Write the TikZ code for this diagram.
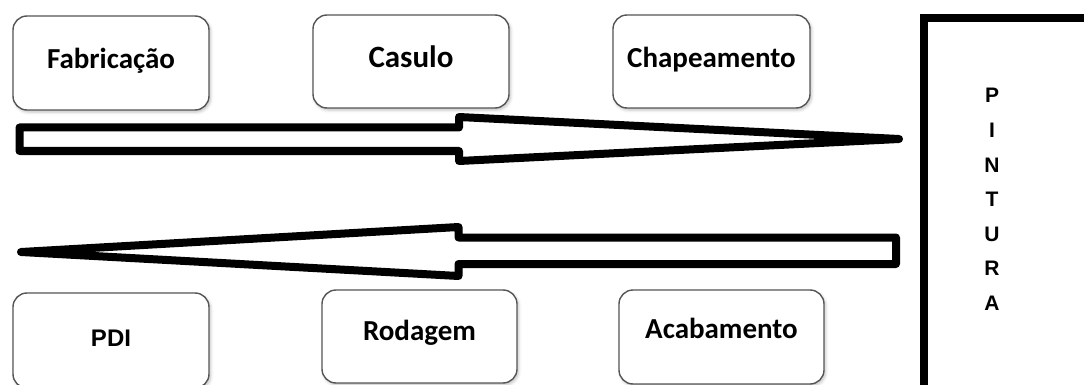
\documentclass[tikz,border=0pt]{standalone}
\usepackage{fontspec}
\setmainfont{Carlito}
\newfontfamily\arialfont{Liberation Sans}
\usetikzlibrary{shadows.blur}
\definecolor{boxgray}{HTML}{555555}

\begin{document}
\begin{tikzpicture}[x=1pt,y=-1pt,
  stage/.style={draw=boxgray, line width=1.4pt, rounded corners=14pt, fill=white,
    blur shadow={shadow xshift=1.5pt, shadow yshift=-2pt, shadow blur radius=3pt, shadow opacity=25},
    inner sep=0pt, text height=20pt, text depth=8pt,
    font=\fontsize{29}{34}\selectfont\bfseries},
  lbl/.style={anchor=base, inner sep=0pt, font=\fontsize{29}{34}\selectfont\bfseries},
  bigarrow/.style={draw=black, line width=8pt, line join=round, fill=white},
  letter/.style={font=\arialfont\fontsize{21}{25}\selectfont\bfseries, anchor=base, inner sep=0pt},
]
\useasboundingbox (0,0) rectangle (1084,385);

% process stages, upper row
\node[stage, minimum width=196pt, minimum height=94pt] (fab)  at (111,63)   {Fabricação};
\node[stage, minimum width=196pt, minimum height=93pt,
      font=\fontsize{31}{36}\selectfont\bfseries] (cas) at (411,61.5) {Casulo};
\node[stage, minimum width=197pt, minimum height=93pt] (chap) at (711.5,61.5) {Chapeamento};

% process stages, lower row
\node[stage, minimum width=196pt, minimum height=95pt,
      font=\arialfont\fontsize{24}{28}\selectfont\bfseries] (pdi) at (111,340.5) {PDI};
\node[stage, minimum width=195pt, minimum height=93pt] (rod) at (419.5,336.5) {};
\node[lbl] (rodtxt) at (419.5,340) {Rodagem};
\node[stage, minimum width=205pt, minimum height=94pt] (acab) at (721.5,337) {};
\node[lbl] (acabtxt) at (721.5,338) {Acabamento};

% paint shop block
\node[draw=black, line width=8pt, minimum width=168pt, minimum height=373.5pt,
      anchor=north west, inner sep=0pt] (pintura) at (920,14.5) {};
\foreach \ch [count=\k from 0] in {P,I,N,T,U,R,A}
  \node[letter] (ch\k) at (992,103+34.5*\k) {\ch};

% flow towards the paint shop
\coordinate (toptip) at (899,139);
\draw[bigarrow] (19.5,127.5) -- (459,127.5) -- (459,117) -- (toptip)
  -- (459,161) -- (459,151) -- (19.5,151) -- cycle;

% flow back from the paint shop
\coordinate (bottip) at (21,252);
\draw[bigarrow] (896,237.5) -- (458.5,237.5) -- (458.5,227) -- (bottip)
  -- (458.5,276) -- (458.5,264) -- (896,264) -- cycle;
\end{tikzpicture}
\end{document}
